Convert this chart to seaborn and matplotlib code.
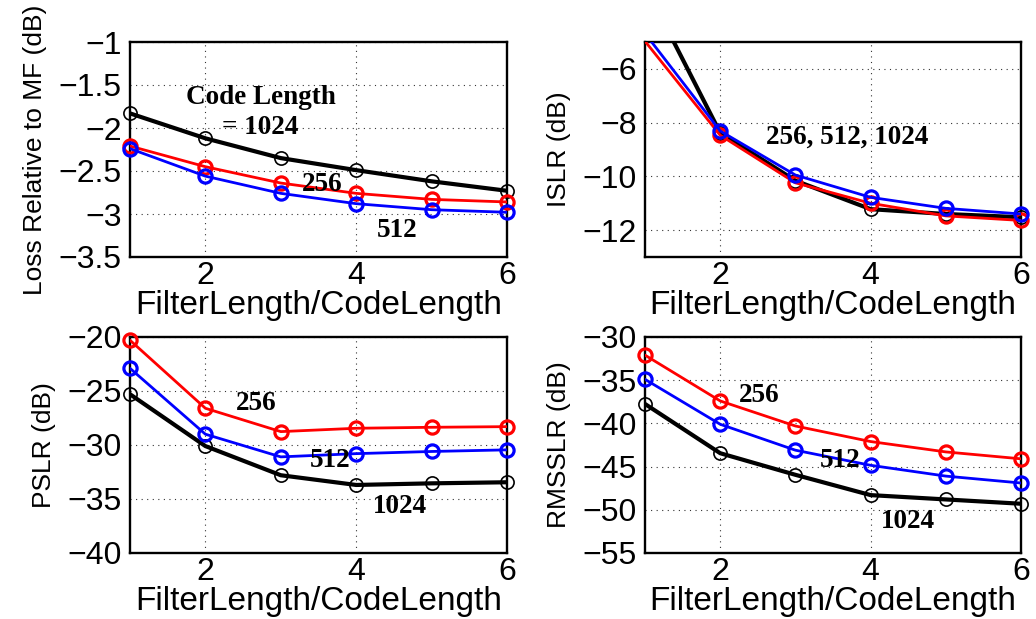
import matplotlib
matplotlib.use("Agg")
import matplotlib.pyplot as plt
import numpy as np
import pandas as pd
import seaborn as sns

# Filter length expressed as a multiple of the code length
ratio = [1, 2, 3, 4, 5, 6]
code_lengths = ["256", "512", "1024"]

# Loss relative to matched filter (dB)
loss_256 = [-2.21, -2.45, -2.64, -2.76, -2.83, -2.86]
loss_512 = [-2.24, -2.56, -2.76, -2.88, -2.95, -2.98]
loss_1024 = [-1.83, -2.12, -2.35, -2.49, -2.62, -2.73]

# Integrated sidelobe ratio (dB)
islr_256 = [-4.97, -8.47, -10.24, -11.00, -11.47, -11.64]
islr_512 = [-4.68, -8.31, -9.95, -10.78, -11.19, -11.40]
islr_1024 = [-2.90, -8.38, -10.16, -11.22, -11.40, -11.52]

# Peak sidelobe ratio (dB)
pslr_256 = [-20.3, -26.6, -28.76, -28.45, -28.36, -28.3]
pslr_512 = [-22.9, -29.0, -31.1, -30.8, -30.6, -30.45]
pslr_1024 = [-25.3, -30.1, -32.8, -33.7, -33.55, -33.45]

# RMS sidelobe ratio (dB)
rms_256 = [-32.1, -37.4, -40.3, -42.1, -43.3, -44.1]
rms_512 = [-34.9, -40.1, -43.1, -44.85, -46.1, -46.9]
rms_1024 = [-37.75, -43.45, -45.95, -48.3, -48.8, -49.3]

sns.set_theme(style="white")
plt.rcParams["font.family"] = ["Liberation Sans", "DejaVu Sans"]
plt.rcParams["axes.unicode_minus"] = True
plt.rcParams["text.color"] = "black"
plt.rcParams["axes.labelcolor"] = "black"
plt.rcParams["xtick.color"] = "black"
plt.rcParams["ytick.color"] = "black"

colors = {"256": "#ff0000", "512": "#0000ff", "1024": "#000000"}

W, H = 1036, 619
fig = plt.figure(figsize=(W / 100, H / 100), dpi=100)
fig.patch.set_facecolor("white")


def make_axes(px_left, px_top, px_right, px_bottom):
    return fig.add_axes([px_left / W, 1 - px_bottom / H,
                         (px_right - px_left) / W, (px_bottom - px_top) / H])


def minus_labels(values):
    return [f"{v:g}".replace("-", "\u2212") for v in values]


panels = [
    dict(box=(130, 42, 507, 257),
         data={"256": loss_256, "512": loss_512, "1024": loss_1024},
         ylim=(-3.5, -1), yticks=[-3.5, -3, -2.5, -2, -1.5, -1],
         ylabel="Loss Relative to MF (dB)",
         notes=[("Code Length", 2.73, -1.65), ("= 1024", 2.72, -2.0),
                ("256", 3.55, -2.66), ("512", 4.54, -3.19)]),
    dict(box=(645, 42, 1021, 257),
         data={"256": islr_256, "512": islr_512, "1024": islr_1024},
         ylim=(-13, -5), yticks=[-12, -10, -8, -6],
         ylabel="ISLR (dB)",
         notes=[("256, 512, 1024", 3.69, -8.54)]),
    dict(box=(130, 337, 507, 553),
         data={"256": pslr_256, "512": pslr_512, "1024": pslr_1024},
         ylim=(-40, -20), yticks=[-40, -35, -30, -25, -20],
         ylabel="PSLR (dB)",
         notes=[("256", 2.68, -26.2), ("512", 3.65, -31.4), ("1024", 4.58, -35.7)]),
    dict(box=(645, 337, 1021, 553),
         data={"256": rms_256, "512": rms_512, "1024": rms_1024},
         ylim=(-55, -30), yticks=[-55, -50, -45, -40, -35, -30],
         ylabel="RMSSLR (dB)",
         notes=[("256", 2.52, -36.8), ("512", 3.6, -44.35), ("1024", 4.5, -51.3)]),
]

for p in panels:
    ax = make_axes(*p["box"])
    lo, hi = p["ylim"]
    for cl in code_lengths:
        df = pd.DataFrame({"ratio": ratio, "value": p["data"][cl]})
        black = cl == "1024"
        # connecting line, clipped to the axes box
        sns.lineplot(data=df, x="ratio", y="value", ax=ax, color=colors[cl],
                     linewidth=3.0 if black else 2.0,
                     zorder=3 if black else 4, clip_on=True)
        # open circle markers for the points inside the y range, drawn whole
        inside = df[(df["value"] >= lo) & (df["value"] <= hi)]
        sns.lineplot(data=inside, x="ratio", y="value", ax=ax, color=colors[cl],
                     linestyle="none", marker="o", markersize=9.5,
                     markerfacecolor="none", markeredgecolor=colors[cl],
                     markeredgewidth=1.2 if black else 2.3,
                     zorder=3 if black else 4, clip_on=False)
    ax.set_xlim(1, 6)
    ax.set_ylim(lo, hi)
    ax.set_xticks([2, 4, 6])
    ax.set_xticklabels(["2", "4", "6"])
    ax.set_yticks(p["yticks"])
    ax.set_yticklabels(minus_labels(p["yticks"]))
    ax.set_xlabel("FilterLength/CodeLength", fontsize=24, labelpad=-1)
    ax.set_ylabel(p["ylabel"], fontsize=19, labelpad=8)
    ax.tick_params(axis="both", direction="in", length=5, width=1,
                   labelsize=23, pad=6, colors="black")
    ax.tick_params(axis="x", pad=3)
    ax.grid(True, linestyle=(0, (1, 4)), color="black", linewidth=0.8, alpha=0.8)
    for s in ax.spines.values():
        s.set_visible(True)
        s.set_color("black")
        s.set_linewidth(1.7)
    for txt, x, y in p["notes"]:
        ax.text(x, y, txt, ha="center", va="center", fontsize=19.5,
                fontweight="bold", family=["Liberation Serif", "DejaVu Serif"],
                color="black", zorder=6)

fig.savefig("out.png", dpi=100, facecolor="white")
